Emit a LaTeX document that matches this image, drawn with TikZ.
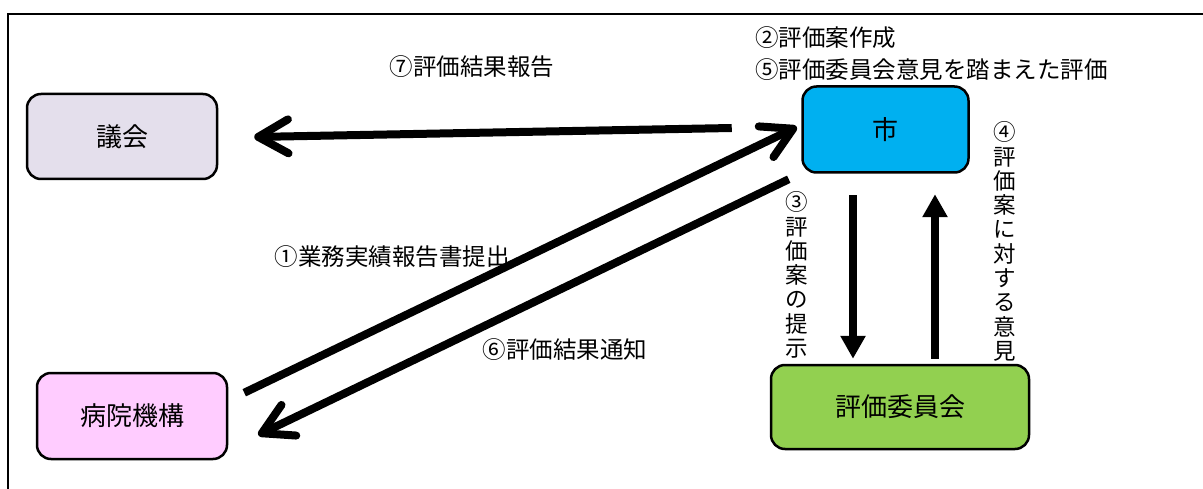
\documentclass[tikz,border=0pt]{standalone}
\usepackage{fontspec}
\setmainfont{Noto Sans CJK JP}
\usetikzlibrary{arrows.meta,calc}
\definecolor{gikaic}{HTML}{E4DFEC}
\definecolor{shic}{HTML}{00B0F0}
\definecolor{byoinc}{HTML}{FFCCFF}
\definecolor{iinc}{HTML}{92D050}
\tikzset{
  box/.style={draw=black, line width=2.5pt, rounded corners=14pt, inner sep=0pt,
    font=\fontsize{26}{28}\selectfont},
  lbl/.style={inner sep=0pt, font=\fontsize{23.5}{25}\selectfont},
  vlbl/.style={inner sep=0pt, align=center, font=\fontsize{22.5}{24.3}\selectfont},
  barb/.style={line width=8pt, -{Straight Barb[length=30pt,width=34pt,round]}},
  tri/.style={line width=8pt, -{Triangle[length=23pt,width=24pt]}},
}
\begin{document}
\begin{tikzpicture}[x=1pt,y=-1pt]
\useasboundingbox (0,0) rectangle (1203,489);
\draw[line width=2pt] (8,489) -- (8,14) -- (1204,14);

\node[box, fill=gikaic, minimum width=190pt, minimum height=85pt] (gikai) at (122,136.5) {議会};
\node[box, fill=shic, minimum width=166pt, minimum height=86pt] (shi) at (885.5,129.5) {市};
\node[box, fill=byoinc, minimum width=190pt, minimum height=86pt] (byoin) at (132,416) {病院機構};
\node[box, fill=iinc, minimum width=258pt, minimum height=84pt] (iin) at (900,407) {評価委員会};

\draw[barb] ($(shi.west)+(-69.5,-1.5)$) -- ($(gikai.east)+(36,0.5)$);
\draw[barb] ($(byoin.north east)+(16,21)$) -- ($(shi.west)+(-4.5,-2.5)$);
\draw[barb] ($(shi.south west)+(-12.5,5.5)$) -- ($(byoin.east)+(30,19)$);
\draw[tri] ($(shi.south)+(-32.5,21.5)$) -- ($(iin.north)+(-47,-5)$);
\draw[tri] ($(iin.north)+(35,-5)$) -- ($(shi.south)+(49.5,20.5)$);

\node[lbl] (l7) at (472,67) {⑦評価結果報告};
\node[lbl, anchor=west] (l2) at (755,38) {②評価案作成};
\node[lbl, anchor=west] (l5) at (755,70) {⑤評価委員会意見を踏まえた評価};
\node[lbl] (l1) at (392,257) {①業務実績報告書提出};
\node[lbl] (l6) at (565,350) {⑥評価結果通知};
\node[vlbl] (l3) at (797,275) {③\\評\\価\\案\\の\\提\\示};
\node[vlbl] (l4) at (1005,241.5) {④\\評\\価\\案\\に\\対\\す\\る\\意\\見};
\end{tikzpicture}
\end{document}
